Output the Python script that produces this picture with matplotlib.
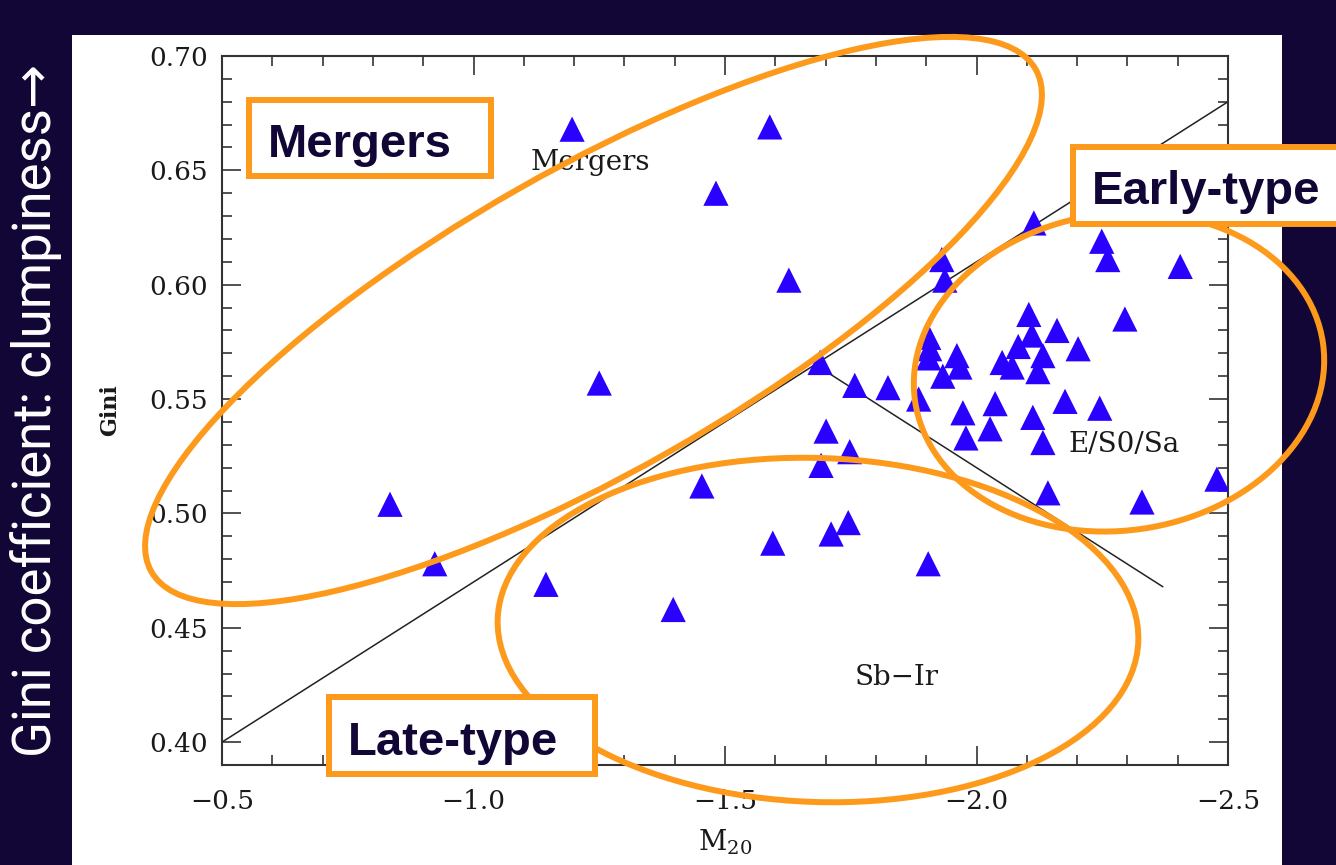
"""Gini vs M20 morphology diagram with slide-style annotations (mergers / early / late type).

Output: out.png (1336x865)
"""
import matplotlib
matplotlib.use("Agg")
import matplotlib.pyplot as plt
import matplotlib.transforms as mtransforms
from matplotlib.patches import Ellipse, Rectangle
from matplotlib.ticker import MultipleLocator, FuncFormatter

W, H = 1336, 865
NAVY = "#120636"
ORANGE = "#fd9a1c"
BLUE = "#2a00ff"

# galaxies
M20 = [-1.196, -1.589, -1.482, -1.627, -1.250, -0.834, -0.923, -1.144, -1.397, -1.454,
       -1.595, -1.689, -1.758, -1.824, -1.701, -1.748, -1.691, -1.745, -1.711, -1.904,
       -1.931, -1.937, -1.885, -1.905, -1.907, -1.905, -1.961, -1.967, -1.933, -2.051,
       -2.071, -2.104, -2.160, -2.110, -2.083, -2.132, -2.122, -2.202, -1.973, -2.037,
       -1.979, -2.027, -2.112, -2.176, -2.245, -2.132, -2.114, -2.249, -2.261, -2.405,
       -2.295, -2.142, -2.329, -2.478]
GINI = [0.668, 0.669, 0.640, 0.602, 0.557, 0.504, 0.478, 0.469, 0.458, 0.512,
        0.487, 0.566, 0.556, 0.555, 0.536, 0.527, 0.521, 0.496, 0.491, 0.478,
        0.611, 0.602, 0.550, 0.577, 0.572, 0.568, 0.569, 0.564, 0.560, 0.566,
        0.564, 0.587, 0.580, 0.578, 0.573, 0.569, 0.562, 0.572, 0.544, 0.548,
        0.533, 0.537, 0.542, 0.549, 0.546, 0.531, 0.627, 0.619, 0.611, 0.608,
        0.585, 0.509, 0.505, 0.515]

# classification boundaries
MERGER_LINE_M20 = [-0.5, -2.5]
MERGER_LINE_GINI = [0.40, 0.68]
HUBBLE_LINE_M20 = [-1.68, -2.37]
HUBBLE_LINE_GINI = [0.565, 0.468]

REGION_NAMES = ["Mergers", "E/S0/Sa", "Sb\u2212Ir"]
REGION_M20 = [-1.232, -2.293, -1.842]
REGION_GINI = [0.650, 0.527, 0.425]

XTICKS = [-0.5, -1.0, -1.5, -2.0, -2.5]
YTICKS = [0.40, 0.45, 0.50, 0.55, 0.60, 0.65, 0.70]

plt.rcParams["mathtext.fontset"] = "dejavuserif"
SERIF = "DejaVu Serif"

fig = plt.figure(figsize=(W / 100, H / 100), dpi=100, facecolor=NAVY)
pix = mtransforms.Affine2D().scale(1 / W, -1 / H).translate(0, 1) + fig.transFigure

# white slide panel
fig.add_artist(Rectangle((72, 35), 1210, 840, transform=pix, fc="white", ec="none", zorder=-1))

ax = fig.add_axes([222 / W, 1 - 765 / H, 1006 / W, 709 / H])
ax.set_facecolor("white")
ax.plot(MERGER_LINE_M20, MERGER_LINE_GINI, color="#222222", lw=1.1)
ax.plot(HUBBLE_LINE_M20, HUBBLE_LINE_GINI, color="#222222", lw=1.1)
ax.scatter(M20, GINI, marker="^", s=330, color=BLUE, edgecolors="none", zorder=3)
for name, mx, gy in zip(REGION_NAMES, REGION_M20, REGION_GINI):
    ax.text(mx, gy, name, ha="center", va="baseline", family=SERIF, fontsize=20,
            color="#1a1a1a")

ax.set_xlim(-0.5, -2.5)
ax.set_ylim(0.39, 0.70)
ax.set_xticks(XTICKS)
ax.set_yticks(YTICKS)
ax.xaxis.set_minor_locator(MultipleLocator(0.1))
ax.yaxis.set_minor_locator(MultipleLocator(0.01))
ax.xaxis.set_major_formatter(FuncFormatter(lambda v, p: f"{v:.1f}".replace("-", "\u2212")))
ax.yaxis.set_major_formatter(FuncFormatter(lambda v, p: f"{v:.2f}"))
ax.tick_params(which="both", direction="in", top=True, right=True, color="#333333", width=1.2)
ax.tick_params(which="major", length=14)
ax.tick_params(which="minor", length=7)
ax.tick_params(axis="y", pad=10)
ax.tick_params(axis="x", pad=17)
for lab in ax.get_xticklabels() + ax.get_yticklabels():
    lab.set_family(SERIF)
    lab.set_fontsize(19)
    lab.set_color("#1a1a1a")
for sp in ax.spines.values():
    sp.set_linewidth(1.5)
    sp.set_color("#333333")
ax.set_xlabel(r"M$_{20}$", family=SERIF, fontsize=20, labelpad=10, color="#1a1a1a")
ax.set_ylabel("Gini", family=SERIF, fontsize=16, fontweight="bold", labelpad=20, color="#1a1a1a")

# slide annotations (pixel coordinates, origin top-left)
lw = 4.3
for (cx, cy, ew, eh, ang) in [(593.5, 320.5, 1017, 303, -29.6),
                               (1119, 372, 412, 317, -8),
                               (818, 630, 641, 344, 2)]:
    fig.add_artist(Ellipse((cx, cy), ew, eh, angle=ang, transform=pix, fill=False,
                           ec=ORANGE, lw=lw, zorder=5))

for (x0, y0, bw, bh, label, tx, ty) in [(249, 100, 242, 76, "Mergers", 268, 157),
                                        (1073, 147, 272, 77, "Early-type", 1092, 204),
                                        (329, 697, 266, 77, "Late-type", 348, 755)]:
    fig.add_artist(Rectangle((x0, y0), bw, bh, transform=pix, fc="white", ec=ORANGE,
                             lw=lw, zorder=6))
    fig.text(tx / W, 1 - ty / H, label, ha="left", va="baseline", fontsize=34,
             fontweight="bold", family="Liberation Sans", color=NAVY, zorder=7)

fig.text(36 / W, 1 - 410 / H, "Gini coefficient: clumpiness\u2192", rotation=90,
         ha="center", va="center", fontsize=38, color="white",
         family=["Roboto", "DejaVu Sans"])

fig.savefig("out.png", dpi=100, facecolor=NAVY)
print("saved -> out.png")
